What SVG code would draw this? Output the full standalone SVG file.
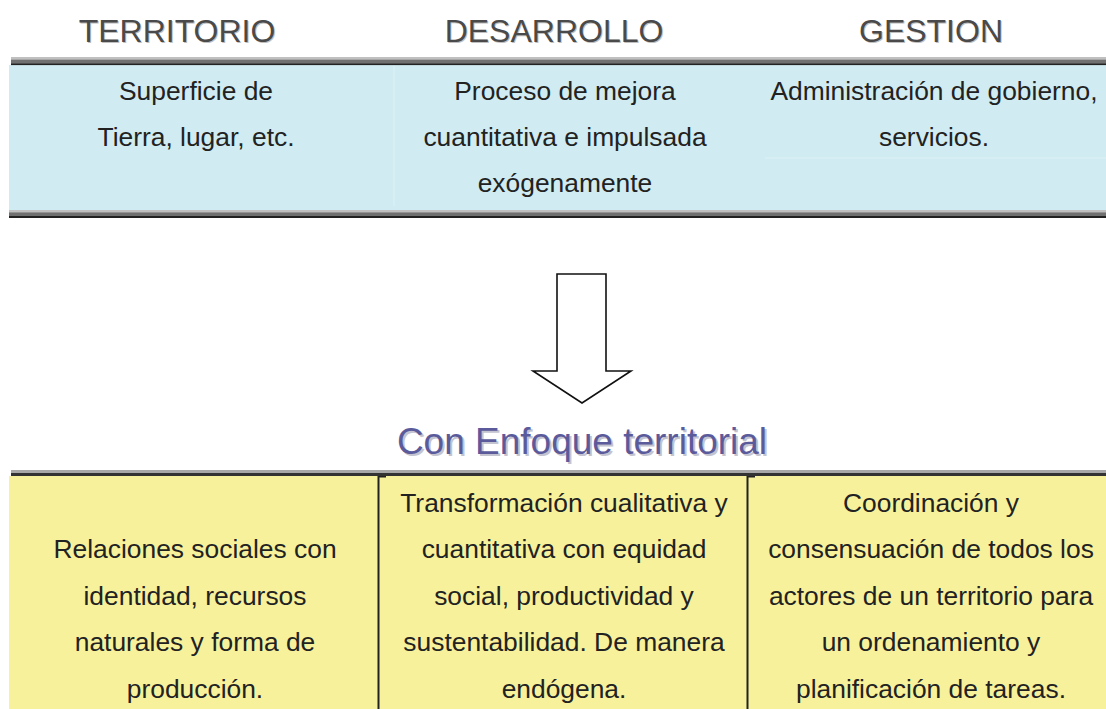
<svg xmlns="http://www.w3.org/2000/svg" width="1106" height="709" viewBox="0 0 1106 709">
<style>
.hdr{font-family:"Liberation Sans",Arial,sans-serif;font-size:32px;fill:#4a4a4a;text-anchor:middle}
.hsh{font-family:"Liberation Sans",Arial,sans-serif;font-size:32px;fill:#c0c0c0;text-anchor:middle}
.txt{font-family:"Liberation Sans",Arial,sans-serif;font-size:26.4px;fill:#222;text-anchor:middle}
.ttl{font-family:"Liberation Sans",Arial,sans-serif;font-size:37px;fill:#5b5b9c;text-anchor:middle}
.tsh{font-family:"Liberation Sans",Arial,sans-serif;font-size:37px;fill:#c4c4d0;text-anchor:middle}
</style>
<rect width="1106" height="709" fill="#fff"/>
<g id="top-table">
<rect x="9" y="65" width="1097" height="145" fill="#d0ecf2"/>
<line x1="394" y1="65" x2="394" y2="206" stroke="#dcf1f6" stroke-width="1"/>
<line x1="765" y1="158" x2="1106" y2="158" stroke="#dcf1f6" stroke-width="1"/>
<rect x="11" y="57" width="1095" height="2.5" fill="#c0c0c0"/>
<rect x="11" y="59.5" width="1095" height="4" fill="#707070"/>
<rect x="11" y="63.3" width="1095" height="1.8" fill="#222"/>
<rect x="9" y="210" width="1097" height="2.3" fill="#c0c0c0"/>
<rect x="9" y="212.3" width="1097" height="3.7" fill="#707070"/>
<rect x="9" y="216" width="1097" height="2" fill="#222"/>
</g>
<g id="territorio">
<text class="hsh" x="178" y="43">TERRITORIO</text>
<text class="hdr" x="177" y="42">TERRITORIO</text>
<text class="txt" x="196" y="100">Superficie de</text>
<text class="txt" x="196" y="146">Tierra, lugar, etc.</text>
</g>
<g id="desarrollo">
<text class="hsh" x="555" y="43">DESARROLLO</text>
<text class="hdr" x="554" y="42">DESARROLLO</text>
<text class="txt" x="565" y="100">Proceso de mejora</text>
<text class="txt" x="565" y="146">cuantitativa e impulsada</text>
<text class="txt" x="565" y="192">exógenamente</text>
</g>
<g id="gestion">
<text class="hsh" x="932" y="43">GESTION</text>
<text class="hdr" x="931" y="42">GESTION</text>
<text class="txt" x="934" y="100">Administración de gobierno,</text>
<text class="txt" x="934" y="146">servicios.</text>
</g>
<g id="connectors">
<path d="M557 274 H606 V371 H631 L582 403 L533 371 H557 Z" fill="#fff" stroke="#111" stroke-width="1.6" stroke-linejoin="miter"/>
</g>
<g id="enfoque">
<text class="tsh" x="584" y="456">Con Enfoque territorial</text>
<text class="ttl" x="582" y="454">Con Enfoque territorial</text>
</g>
<g id="bottom-table">
<rect x="9" y="476" width="1097" height="233" fill="#f7f19c"/>
<rect x="11" y="470" width="1095" height="3" fill="#a8a8a8"/>
<rect x="11" y="473" width="1095" height="3" fill="#333"/>
<rect x="377.5" y="476" width="2" height="233" fill="#222"/>
<rect x="379" y="476" width="7" height="1.5" fill="#222"/>
<rect x="746.5" y="476" width="2" height="233" fill="#222"/>
<rect x="748" y="476" width="7" height="1.5" fill="#222"/>
</g>
<g id="relaciones">
<text class="txt" x="195" y="558">Relaciones sociales con</text>
<text class="txt" x="195" y="604.5">identidad, recursos</text>
<text class="txt" x="195" y="651">naturales y forma de</text>
<text class="txt" x="195" y="697.5">producción.</text>
</g>
<g id="transformacion">
<text class="txt" x="564" y="511.5">Transformación cualitativa y</text>
<text class="txt" x="564" y="558">cuantitativa con equidad</text>
<text class="txt" x="564" y="604.5">social, productividad y</text>
<text class="txt" x="564" y="651">sustentabilidad. De manera</text>
<text class="txt" x="564" y="697.5">endógena.</text>
</g>
<g id="coordinacion">
<text class="txt" x="931" y="511.5">Coordinación y</text>
<text class="txt" x="931" y="558">consensuación de todos los</text>
<text class="txt" x="931" y="604.5">actores de un territorio para</text>
<text class="txt" x="931" y="651">un ordenamiento y</text>
<text class="txt" x="931" y="697.5">planificación de tareas.</text>
</g>
</svg>
